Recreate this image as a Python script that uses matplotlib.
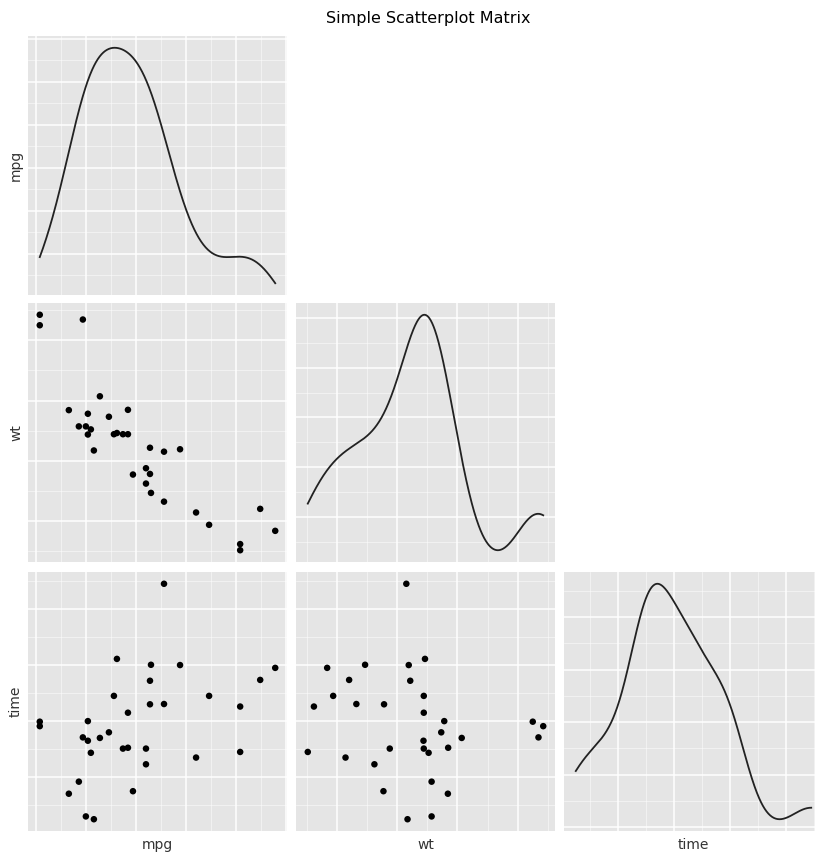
import numpy as np
import matplotlib.pyplot as plt
from matplotlib.ticker import MultipleLocator, AutoLocator, AutoMinorLocator

# mtcars columns
mpg = [21.0, 21.0, 22.8, 21.4, 18.7, 18.1, 14.3, 24.4, 22.8, 19.2, 17.8, 16.4, 17.3, 15.2, 10.4, 10.4,
       14.7, 32.4, 30.4, 33.9, 21.5, 15.5, 15.2, 13.3, 19.2, 27.3, 26.0, 30.4, 15.8, 19.7, 15.0, 21.4]
wt = [2.620, 2.875, 2.320, 3.215, 3.440, 3.460, 3.570, 3.190, 3.150, 3.440, 3.440, 4.070, 3.730, 3.780,
      5.250, 5.424, 5.345, 2.200, 1.615, 1.835, 2.465, 3.520, 3.435, 3.840, 3.845, 1.935, 2.140, 1.513,
      3.170, 2.770, 3.570, 2.780]
time = [16.46, 17.02, 18.61, 19.44, 17.02, 20.22, 15.84, 20.00, 22.90, 18.30, 18.90, 17.40, 17.60, 18.00,
        17.98, 17.82, 17.42, 19.47, 18.52, 19.90, 20.01, 16.87, 17.30, 15.41, 17.05, 18.90, 16.70, 16.90,
        14.50, 15.50, 14.60, 18.60]

names = ["mpg", "wt", "time"]
cols = [np.array(mpg), np.array(wt), np.array(time)]
steps = [5, 1, 2]


def density(x):
    # gaussian kde with R's bw.nrd0, evaluated over the data range (like stat_density)
    n = len(x)
    q75, q25 = np.percentile(x, [75, 25])
    bw = 0.9 * min(np.std(x, ddof=1), (q75 - q25) / 1.34) * n ** -0.2
    gx = np.linspace(x.min(), x.max(), 512)
    d = np.exp(-0.5 * ((gx[:, None] - x[None, :]) / bw) ** 2).sum(axis=1) / (n * bw * np.sqrt(2 * np.pi))
    return gx, d


def expand(lo, hi):
    pad = (hi - lo) * 0.05
    return lo - pad, hi + pad


W, H = 815, 856
fig = plt.figure(figsize=(W / 100, H / 100), dpi=100)

lefts = [28, 296, 564]
tops = [36, 303, 572]
pw, ph = 259, 259

for i in range(3):
    for j in range(3):
        if j > i:
            continue
        ax = fig.add_axes([lefts[j] / W, 1 - (tops[i] + ph) / H, pw / W, ph / H])
        ax.set_facecolor("#E5E5E5")
        for s in ax.spines.values():
            s.set_visible(False)
        x = cols[j]
        ax.set_xlim(*expand(x.min(), x.max()))
        ax.xaxis.set_major_locator(MultipleLocator(steps[j]))
        ax.xaxis.set_minor_locator(MultipleLocator(steps[j] / 2))
        if i == j:
            gx, d = density(x)
            ax.plot(gx, d, color="#222222", lw=1.3)
            ax.set_ylim(*expand(d.min(), d.max()))
            ax.yaxis.set_major_locator(AutoLocator())
            ax.yaxis.set_minor_locator(AutoMinorLocator(2))
        else:
            y = cols[i]
            ax.scatter(x, y, s=22, color="black", edgecolors="none", zorder=3)
            ax.set_ylim(*expand(y.min(), y.max()))
            ax.yaxis.set_major_locator(MultipleLocator(steps[i]))
            ax.yaxis.set_minor_locator(MultipleLocator(steps[i] / 2))
        ax.grid(which="major", color="white", lw=1.1)
        ax.grid(which="minor", color="white", lw=0.5, alpha=0.7)
        ax.set_axisbelow(True)
        ax.tick_params(which="both", length=0, labelbottom=False, labelleft=False)

for k in range(3):
    fig.text((lefts[k] + pw / 2) / W, 1 - 845 / H, names[k], ha="center", va="center",
             fontsize=10, color="#333333")
    fig.text(16 / W, 1 - (tops[k] + ph / 2) / H, names[k], ha="center", va="center",
             rotation=90, fontsize=10, color="#333333")

fig.text(428 / W, 1 - 18 / H, "Simple Scatterplot Matrix", ha="center", va="center",
         fontsize=11.5, color="black")

fig.savefig("out.png", dpi=100)
